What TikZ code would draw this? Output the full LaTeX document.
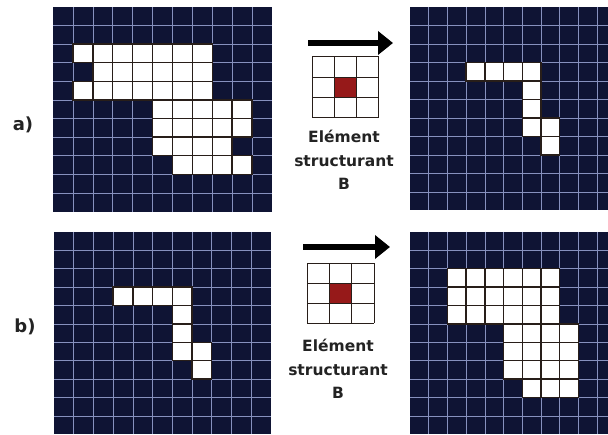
\documentclass[tikz,border=0pt]{standalone}
\usepackage{fontspec}
\setmainfont{DejaVu Sans}
\usepackage{xcolor}
\usetikzlibrary{arrows.meta}
\definecolor{navy}{RGB}{15,20,52}
\definecolor{gridblue}{RGB}{135,145,190}
\definecolor{pixedge}{RGB}{40,30,25}
\definecolor{sered}{RGB}{150,25,25}
\definecolor{seline}{RGB}{80,50,50}
\definecolor{txtgray}{RGB}{35,35,35}

% 11x11 binary image: origin, cell size, white pixels as row/first col/last col
\newcommand{\pixgrid}[5]{%
  \begin{scope}[shift={(#1,#2)}, xscale=#3, yscale=#4]
    \fill[navy] (0,0) rectangle (11,11);
    \foreach \i in {1,...,10} {
      \draw[gridline] (\i,0) -- (\i,11);
      \draw[gridline] (0,\i) -- (11,\i);
    }
    \foreach \r/\a/\b in {#5}
      \foreach \c in {\a,...,\b}
        \draw[onpix] (\c,\r) rectangle ++(1,1);
  \end{scope}}
% 3x3 structuring element with its centre marked
\newcommand{\structel}[4]{%
  \begin{scope}[shift={(#1,#2)}, xscale=#3, yscale=#4]
    \fill[white] (0,0) rectangle (3,3);
    \fill[sered] (1,1) rectangle (2,2);
    \foreach \i in {0,...,3} {
      \draw[seline] (\i,0) -- (\i,3);
      \draw[seline] (0,\i) -- (3,\i);
    }
  \end{scope}}

\begin{document}
\begin{tikzpicture}[
  x=1pt, y=-1pt,
  gridline/.style={gridblue, line width=0.6pt},
  onpix/.style={fill=white, draw=pixedge, line width=1.4pt},
  seline/.style={draw=pixedge, line width=0.9pt},
  bigarrow/.style={line width=6pt, -{Triangle[length=15pt, width=23pt]}},
  ann/.style={font=\bfseries\fontsize{15.5}{23.5}\selectfont, text=txtgray,
              align=center, inner sep=0pt},
  lbl/.style={font=\bfseries\fontsize{18}{20}\selectfont, text=txtgray, inner sep=0pt}
]
\clip (0,0) rectangle (608,435);
\fill[white] (0,0) rectangle (608,435);

% a) erosion
\pixgrid{53}{7}{19.9}{18.6}{2/1/7, 3/2/7, 4/1/7, 5/5/9, 6/5/9, 7/5/8, 8/6/9}
\pixgrid{410}{7}{18.7}{18.5}{3/3/6, 4/6/6, 5/6/6, 6/6/7, 7/7/7}
\structel{312}{56.7}{22.3}{20.4}
\coordinate (arrAs) at (308,43);
\coordinate (arrAe) at (393,43);
\draw[bigarrow] (arrAs) -- (arrAe);
\node[ann] (txtA) at (344,160) {Elément\\structurant\\B};
\node[lbl] (la) at (23,125) {a)};

% b) dilation
\pixgrid{54}{232}{19.7}{18.4}{3/3/6, 4/6/6, 5/6/6, 6/6/7, 7/7/7}
\pixgrid{410}{232}{18.7}{18.4}{2/2/7, 3/2/7, 4/2/7, 5/5/8, 6/5/8, 7/5/8, 8/6/8}
\structel{307.3}{263.3}{22.3}{20}
\coordinate (arrBs) at (303,247);
\coordinate (arrBe) at (390,247);
\draw[bigarrow] (arrBs) -- (arrBe);
\node[ann] (txtB) at (338,369) {Elément\\structurant\\B};
\node[lbl] (lb) at (25,327) {b)};
\end{tikzpicture}
\end{document}
